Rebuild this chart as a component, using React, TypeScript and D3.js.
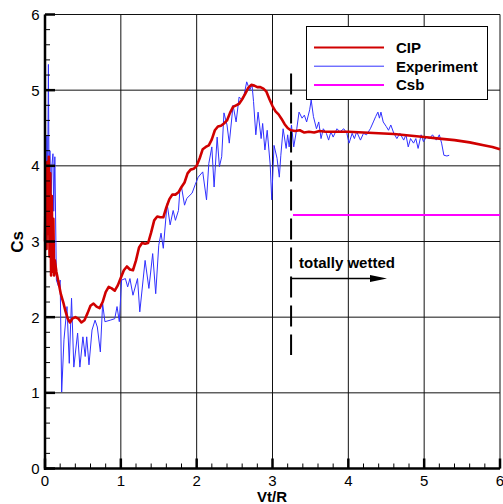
import React from "react";
import * as d3 from "d3";

const W = 503;
const H = 504;

const X_TICKS = [0, 1, 2, 3, 4, 5, 6];
const Y_TICKS = [0, 1, 2, 3, 4, 5, 6];

const CIP_X = [0.0, 0.01, 0.02, 0.03, 0.04, 0.05, 0.06, 0.07, 0.08, 0.09, 0.1, 0.11, 0.12, 0.13, 0.15, 0.18, 0.21, 0.24, 0.27, 0.3, 0.33, 0.36, 0.4, 0.44, 0.48, 0.52, 0.56, 0.6, 0.64, 0.68, 0.72, 0.76, 0.8, 0.84, 0.88, 0.92, 0.96, 1.0, 1.04, 1.08, 1.12, 1.16, 1.2, 1.24, 1.28, 1.32, 1.36, 1.4, 1.44, 1.48, 1.52, 1.56, 1.6, 1.64, 1.68, 1.72, 1.76, 1.8, 1.84, 1.88, 1.92, 1.96, 2.0, 2.04, 2.08, 2.12, 2.16, 2.2, 2.24, 2.28, 2.32, 2.36, 2.4, 2.44, 2.48, 2.52, 2.56, 2.6, 2.64, 2.68, 2.72, 2.76, 2.8, 2.84, 2.88, 2.92, 2.96, 3.0, 3.04, 3.08, 3.12, 3.16, 3.2, 3.24, 3.3, 3.36, 3.42, 3.48, 3.55, 3.62, 3.7, 3.8, 3.9, 4.0, 4.2, 4.4, 4.6, 4.8, 5.0, 5.2, 5.4, 5.6, 5.8, 5.9, 6.0];
const CIP_Y = [3.0, 3.95, 2.9, 4.05, 3.1, 4.12, 2.8, 3.9, 2.55, 3.6, 2.6, 3.3, 2.55, 2.75, 2.6, 2.45, 2.3, 2.2, 2.08, 1.98, 1.93, 1.98, 2.0, 1.98, 1.93, 1.96, 2.05, 2.15, 2.18, 2.14, 2.12, 2.2, 2.33, 2.4, 2.38, 2.35, 2.42, 2.52, 2.62, 2.67, 2.63, 2.62, 2.75, 2.92, 2.98, 2.97, 2.98, 3.12, 3.28, 3.33, 3.32, 3.32, 3.45, 3.56, 3.62, 3.62, 3.65, 3.72, 3.78, 3.9, 3.95, 3.96, 4.0, 4.1, 4.22, 4.25, 4.27, 4.35, 4.47, 4.52, 4.53, 4.56, 4.6, 4.7, 4.78, 4.8, 4.82, 4.88, 4.95, 5.03, 5.07, 5.06, 5.04, 5.04, 5.02, 4.98, 4.88, 4.79, 4.72, 4.68, 4.62, 4.55, 4.5, 4.47, 4.46, 4.47, 4.44, 4.45, 4.44, 4.46, 4.45, 4.45, 4.45, 4.45, 4.44, 4.43, 4.42, 4.4, 4.38, 4.36, 4.34, 4.31, 4.27, 4.25, 4.22];

const EXP_X = [0.0, 0.005, 0.015, 0.025, 0.035, 0.045, 0.055, 0.065, 0.075, 0.09, 0.105, 0.115, 0.13, 0.15, 0.18, 0.2, 0.22, 0.25, 0.29, 0.32, 0.35, 0.38, 0.43, 0.46, 0.5, 0.53, 0.55, 0.58, 0.62, 0.66, 0.69, 0.73, 0.76, 0.79, 0.86, 0.92, 0.95, 0.98, 1.01, 1.06, 1.09, 1.12, 1.16, 1.22, 1.25, 1.32, 1.37, 1.42, 1.46, 1.5, 1.53, 1.56, 1.61, 1.65, 1.69, 1.72, 1.76, 1.78, 1.8, 1.84, 1.87, 1.94, 1.98, 2.02, 2.08, 2.13, 2.16, 2.2, 2.23, 2.27, 2.3, 2.33, 2.36, 2.4, 2.43, 2.48, 2.52, 2.56, 2.6, 2.63, 2.66, 2.7, 2.73, 2.75, 2.78, 2.81, 2.85, 2.87, 2.9, 2.93, 2.97, 2.99, 3.02, 3.06, 3.09, 3.11, 3.14, 3.18, 3.2, 3.22, 3.25, 3.28, 3.32, 3.35, 3.39, 3.42, 3.45, 3.49, 3.51, 3.54, 3.58, 3.61, 3.64, 3.67, 3.71, 3.74, 3.77, 3.8, 3.85, 3.89, 3.94, 3.98, 4.01, 4.05, 4.08, 4.11, 4.16, 4.2, 4.24, 4.29, 4.33, 4.36, 4.39, 4.41, 4.43, 4.46, 4.5, 4.53, 4.56, 4.6, 4.64, 4.68, 4.73, 4.76, 4.79, 4.82, 4.86, 4.89, 4.92, 4.96, 4.99, 5.03, 5.07, 5.11, 5.16, 5.2, 5.23, 5.26, 5.3, 5.33];
const EXP_Y = [1.7, 4.35, 3.0, 4.4, 3.7, 5.34, 3.5, 4.2, 3.3, 4.0, 4.16, 3.4, 4.12, 2.49, 2.4, 2.49, 1.01, 1.7, 2.14, 1.39, 2.25, 1.34, 1.79, 1.34, 1.74, 1.48, 1.74, 1.37, 1.83, 1.96, 1.87, 1.54, 2.18, 1.94, 1.96, 1.98, 2.14, 1.94, 2.49, 2.51, 2.4, 2.51, 2.29, 2.51, 2.07, 2.75, 2.38, 2.84, 2.31, 2.95, 3.11, 2.91, 3.5, 3.22, 3.41, 3.28, 3.41, 3.7, 3.72, 3.48, 3.57, 3.64, 3.75, 3.85, 3.92, 3.55, 4.03, 4.25, 3.72, 4.38, 3.99, 4.12, 4.7, 4.54, 4.3, 4.8, 4.58, 4.91, 4.87, 4.96, 5.11, 5.0, 5.07, 4.85, 4.41, 4.71, 4.36, 4.56, 4.21, 4.47, 4.01, 3.55, 4.27, 4.1, 3.85, 4.14, 4.49, 4.23, 4.41, 4.25, 4.54, 4.25, 4.49, 4.71, 4.63, 4.67, 4.58, 4.74, 4.87, 4.65, 4.49, 4.58, 4.36, 4.49, 4.43, 4.34, 4.45, 4.38, 4.49, 4.45, 4.49, 4.43, 4.3, 4.43, 4.36, 4.45, 4.34, 4.43, 4.41, 4.49, 4.58, 4.65, 4.71, 4.63, 4.71, 4.58, 4.52, 4.47, 4.54, 4.43, 4.36, 4.43, 4.34, 4.41, 4.25, 4.36, 4.3, 4.36, 4.23, 4.41, 4.32, 4.38, 4.36, 4.41, 4.34, 4.41, 4.3, 4.14, 4.13, 4.14];

const CSB_X = [3.27, 6.0];
const CSB_Y = [3.35, 3.35];

const WET_X = 3.245;
const WET_Y_RANGE = [1.5, 5.22];
const ARROW_Y = 2.51;
const ARROW_X_END = 4.51;

const LEGEND = [
  { label: "CIP", color: "#d00000", width: 2 },
  { label: "Experiment", color: "#3030ff", width: 1 },
  { label: "Csb", color: "#ff00ff", width: 2 },
];

const FONT = "'Liberation Sans', Arial, sans-serif";

export default function App() {
  const x = d3.scaleLinear().domain([0, 6]).range([45, 500]);
  const y = d3.scaleLinear().domain([0, 6]).range([468.5, 14.5]);

  const line = d3
    .line<[number, number]>()
    .x((d) => x(d[0]))
    .y((d) => y(d[1]));

  const cip = CIP_X.map((v, i) => [v, CIP_Y[i]] as [number, number]);
  const exp = EXP_X.map((v, i) => [v, EXP_Y[i]] as [number, number]);
  const csb = CSB_X.map((v, i) => [v, CSB_Y[i]] as [number, number]);

  const minor = d3.range(0, 6.001, 0.2).filter((v) => Math.abs(v - Math.round(v)) > 0.01);

  const ax = x(WET_X);
  const ay = y(ARROW_Y);
  const aEnd = x(ARROW_X_END);

  return (
    <svg
      width={W}
      height={H}
      style={{ position: "fixed", left: 0, top: 0, background: "#fff" }}
      fontFamily={FONT}
    >
      <rect width={W} height={H} fill="#fff" />
      {/* grid */}
      {X_TICKS.map((t) => (
        <line key={"gx" + t} x1={x(t)} x2={x(t)} y1={y(0)} y2={y(6)} stroke="#111" strokeWidth={1} />
      ))}
      {Y_TICKS.map((t) => (
        <line key={"gy" + t} x1={x(0)} x2={x(6)} y1={y(t)} y2={y(t)} stroke="#111" strokeWidth={1} />
      ))}
      {/* data */}
      <path d={line(exp) || ""} fill="none" stroke="#3030ff" strokeWidth={1} strokeLinejoin="round" />
      <path d={line(cip) || ""} fill="none" stroke="#d00000" strokeWidth={2.6} strokeLinejoin="round" />
      <path d={line(csb) || ""} fill="none" stroke="#ff00ff" strokeWidth={2} />
      {/* wetted marker */}
      <line
        x1={ax}
        x2={ax}
        y1={y(WET_Y_RANGE[1])}
        y2={y(WET_Y_RANGE[0])}
        stroke="#000"
        strokeWidth={2}
        strokeDasharray="21,8"
      />
      <line x1={ax} x2={aEnd - 14} y1={ay} y2={ay} stroke="#000" strokeWidth={1.5} />
      <polygon points={`${aEnd - 17},${ay - 3.5} ${aEnd},${ay} ${aEnd - 17},${ay + 3.5}`} fill="#000" />
      <text x={ax + 8} y={ay - 10.5} fontSize={15} fontWeight="bold" fill="#000">
        totally wetted
      </text>
      {/* axes */}
      <line x1={x(0)} x2={x(0)} y1={y(0) + 1.5} y2={y(6)} stroke="#000" strokeWidth={2.5} />
      <line x1={x(0) - 1} x2={x(6)} y1={y(0)} y2={y(0)} stroke="#000" strokeWidth={2.5} />
      {Y_TICKS.map((t) => (
        <line key={"ty" + t} x1={x(0)} x2={x(0) + 10} y1={y(t)} y2={y(t)} stroke="#000" strokeWidth={2.5} />
      ))}
      {minor.map((t) => (
        <line key={"my" + t} x1={x(0)} x2={x(0) + 5} y1={y(t)} y2={y(t)} stroke="#000" strokeWidth={1} />
      ))}
      {X_TICKS.map((t) => (
        <line key={"tx" + t} x1={x(t)} x2={x(t)} y1={y(0)} y2={y(0) - 10} stroke="#000" strokeWidth={2.5} />
      ))}
      {minor.map((t) => (
        <line key={"mx" + t} x1={x(t)} x2={x(t)} y1={y(0)} y2={y(0) - 5} stroke="#000" strokeWidth={1} />
      ))}
      {Y_TICKS.map((t) => (
        <text key={"ly" + t} x={39.5} y={y(t) + 5.5} fontSize={15} textAnchor="end" fill="#000">
          {t}
        </text>
      ))}
      {X_TICKS.map((t) => (
        <text key={"lx" + t} x={x(t)} y={485.5} fontSize={15} textAnchor="middle" fill="#000">
          {t}
        </text>
      ))}
      <text x={272} y={502} fontSize={15} fontWeight="bold" textAnchor="middle" fill="#000">
        Vt/R
      </text>
      <text
        transform={`translate(23,242) rotate(-90)`}
        fontSize={17}
        fontWeight="bold"
        textAnchor="middle"
        fill="#000"
      >
        Cs
      </text>
      {/* legend */}
      <rect x={306.5} y={26.5} width={181} height={73} fill="#fff" stroke="#000" strokeWidth={1} />
      {LEGEND.map((l, i) => (
        <g key={l.label}>
          <line x1={314} x2={384} y1={47.5 + i * 18.7} y2={47.5 + i * 18.7} stroke={l.color} strokeWidth={l.width} />
          <text x={396} y={53 + i * 18.7} fontSize={15} fontWeight="bold" fill="#000">
            {l.label}
          </text>
        </g>
      ))}
    </svg>
  );
}
